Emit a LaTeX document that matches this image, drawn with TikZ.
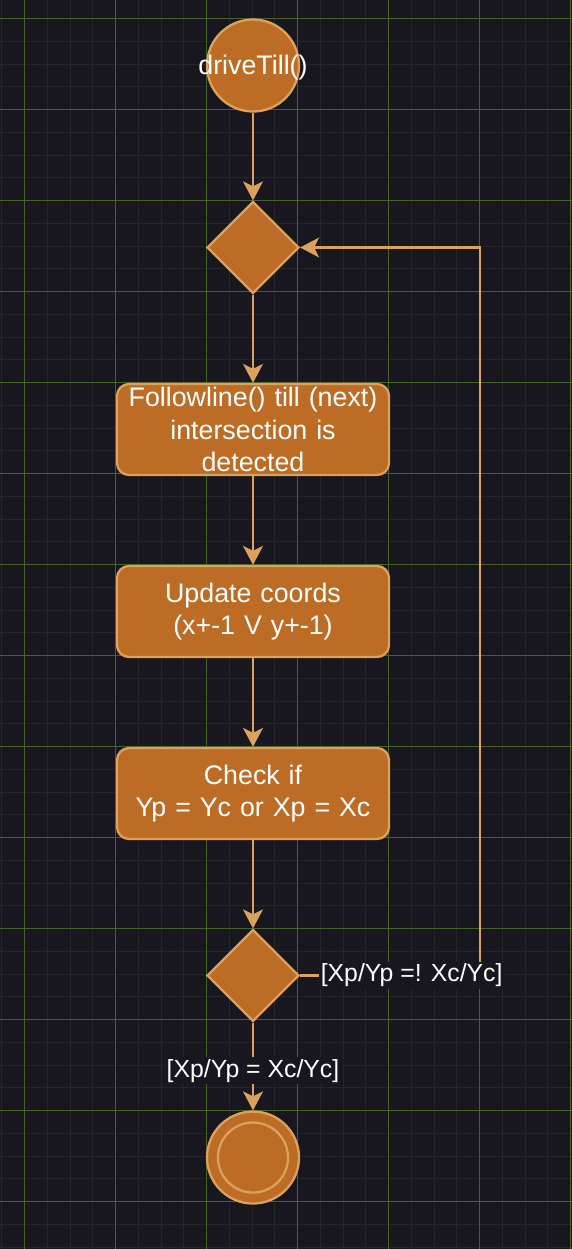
\documentclass[tikz,border=0pt]{standalone}
\usepackage{fontspec}
\setmainfont{Liberation Sans}
\usetikzlibrary{shapes.geometric,arrows.meta,positioning}

\definecolor{bgcol}{HTML}{18171F}
\definecolor{minorgrid}{HTML}{262628}
\definecolor{majorgrid}{HTML}{46622A}
\definecolor{nodefill}{HTML}{BC6C25}
\definecolor{nodeline}{HTML}{DDA15E}

\def\layersep{182bp}

\begin{document}
\begin{tikzpicture}[x=1bp, y=1bp, node distance=\layersep, on grid, draw=nodeline, line width=2.3bp,
    >={Stealth[length=19bp,width=20bp,inset=5bp]}]
    \tikzstyle{every node}=[font=\fontsize{26.8bp}{32.8bp}\selectfont, text=white]
    \tikzstyle{activity}=[fill=nodefill, draw=nodeline, line width=2.3bp]
    \tikzstyle{start state}=[activity, circle, minimum size=92bp, inner sep=0bp]
    \tikzstyle{end state}=[start state]
    \tikzstyle{decision}=[activity, diamond, aspect=1, minimum width=92bp, minimum height=92bp, inner sep=0bp]
    \tikzstyle{action}=[activity, rectangle, rounded corners=12bp, minimum width=272bp, minimum height=91bp, text width=268bp, align=center, inner sep=0bp]
    \tikzstyle{guard}=[fill=bgcol, inner sep=2bp, font=\fontsize{24.8bp}{30bp}\selectfont]
    \tikzstyle{flow}=[->, draw=nodeline, line width=2.3bp]

    \useasboundingbox (0,0) rectangle (572,-1249);

    % Draw the background and the grid
    \fill[bgcol] (0,0) rectangle (572,-1249);
    \foreach \i in {-1,...,24}
        \pgfmathparse{mod(\i+4,4)==0 ? "bgcol" : "minorgrid"}
        \draw[\pgfmathresult, line width=1bp] (24.5+22.75*\i,0) -- (24.5+22.75*\i,-1249);
    \foreach \i in {-1,...,54}
        \pgfmathparse{mod(\i+4,4)==0 ? "bgcol" : "minorgrid"}
        \draw[\pgfmathresult, line width=1bp] (0,-18.5-22.75*\i) -- (572,-18.5-22.75*\i);
    \foreach \i in {0,...,6}
        \draw[majorgrid, line width=1.4bp] (24.5+91*\i,0) -- (24.5+91*\i,-1249);
    \foreach \i in {0,...,13}
        \draw[majorgrid, line width=1.4bp] (0,-18.5-91*\i) -- (572,-18.5-91*\i);

    % Draw the activity nodes
    \node[start state, label={[yshift=-2bp]center:driveTill()}] (start) at (253,-65.5) {};
    \node[decision, below=of start] (check) {};
    \node[action, below=of check] (follow) {Followline() till (next)\\intersection is\\detected};
    \node[action, below=of follow] (update) {Update coords\\(x+-1 V y+-1)};
    \node[action, below=of update] (compare) {Check if\\Yp = Yc or Xp = Xc};
    \node[decision, below=of compare] (arrived) {};
    \node[end state, below=of arrived] (end) {};
    \draw[nodeline, line width=2.3bp] (end) circle[radius=35bp];

    % Connect the nodes
    \foreach \source/\dest in {start/check, check/follow, follow/update, update/compare, compare/arrived}
        \path[flow] (\source) edge (\dest);

    \path[flow] (arrived) edge node[guard, pos=0.55] (done guard) {[Xp/Yp = Xc/Yc]} (end);

    % Loop back to the first decision
    \coordinate (corner) at (480,0);
    \draw[flow] (arrived.east) -- node[guard, pos=0.62] (loop guard) {[Xp/Yp =! Xc/Yc]} (arrived.east -| corner) |- (check.east);
\end{tikzpicture}
\end{document}
